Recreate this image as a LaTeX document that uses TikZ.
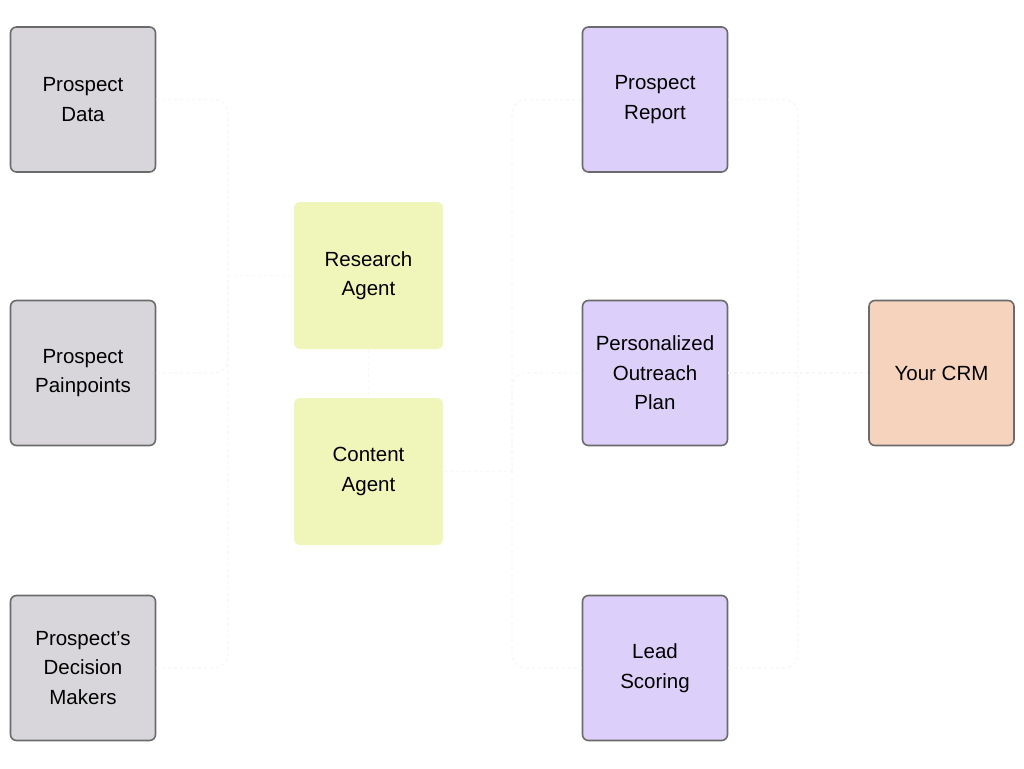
\documentclass[tikz,border=0pt]{standalone}
\usepackage{fontspec}
\setmainfont{Liberation Sans}
\begin{document}
\begin{tikzpicture}[x=1pt,y=-1pt,
  box/.style={draw=black!58, line width=1.6pt, rounded corners=6pt, minimum width=145pt, minimum height=145pt, align=center, inner sep=0pt, font=\fontsize{20.5}{29.5}\selectfont},
  srcbox/.style={box, fill=graybox},
  outbox/.style={box, fill=purplebox},
  crmbox/.style={box, fill=peachbox},
  agentbox/.style={box, draw=none, fill=agentfill, minimum width=149pt, minimum height=147pt},
  conn/.style={draw=black!3, line width=1.3pt, dashed, rounded corners=14pt}]
\definecolor{graybox}{HTML}{D8D6DA}
\definecolor{purplebox}{HTML}{DCD0FA}
\definecolor{peachbox}{HTML}{F6D3BC}
\definecolor{agentfill}{HTML}{F0F5B9}
\useasboundingbox[fill=white] (0,0) rectangle (1024,768);
% source boxes
\node[srcbox] (data) at (83,99.5) {Prospect\\Data};
\node[srcbox] (pain) at (83,373) {Prospect\\Painpoints};
\node[srcbox] (dec) at (83,668) {Prospect’s\\Decision\\Makers};
% agents
\node[agentbox] (research) at (368.5,275.5) {Research\\Agent};
\node[agentbox] (content) at (368.5,471.5) {Content\\Agent};
% outputs
\node[outbox] (report) at (655,99.5) {Prospect\\Report};
\node[outbox] (outreach) at (655,373) {Personalized\\Outreach\\Plan};
\node[outbox] (lead) at (655,668) {Lead\\Scoring};
\node[crmbox] (crm) at (941.5,373) {Your CRM};
% junctions
\coordinate (jl) at (228,275.5);
\coordinate (jr) at (512,471.5);
\coordinate (jc) at (798,373);
% connectors
\draw[conn] (data.east) -| (jl);
\draw[conn] (pain.east) -| (jl);
\draw[conn] (dec.east) -| (jl);
\draw[conn] (jl) -- (research.west);
\draw[conn] (research.south) -- (content.north);
\draw[conn] (content.east) -- (jr);
\draw[conn] (jr) |- (report.west);
\draw[conn] (jr) |- (outreach.west);
\draw[conn] (jr) |- (lead.west);
\draw[conn] (report.east) -| (jc);
\draw[conn] (lead.east) -| (jc);
\draw[conn] (outreach.east) -- (crm.west);
\end{tikzpicture}
\end{document}
